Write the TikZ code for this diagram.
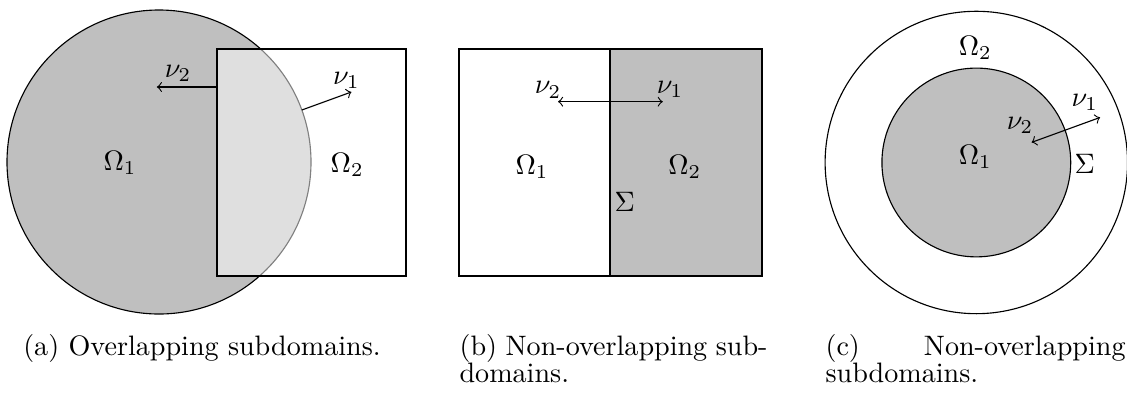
\documentclass[tikz,border=0pt]{standalone}
\usetikzlibrary{calc}
\tikzset{
  subdom/.style={fill=black!25},
  overlap/.style={fill=white,fill opacity=0.5},
  subcap/.style={anchor=base west,inner sep=0pt,align=left},
}
\begin{document}
\begin{tikzpicture}
\useasboundingbox (0,0) rectangle (14.0875,4.925);

% (a) overlapping
\coordinate (ca) at (1.9875,2.9);
\draw[subdom] (ca) circle (1.9);
\draw[overlap] (2.7125,1.475) rectangle (5.075,4.3125);
\draw[->] (2.7125,3.8375) -- (1.96,3.8375);
\draw[->] (ca) ++(20:1.9) -- ++(20:0.66);
\draw (2.225,4.01) node (nua2) {$\nu_2$};
\draw (4.33,3.92) node (nua1) {$\nu_1$};
\draw (1.5,2.89) node (oma1) {$\Omega_1$};
\draw (4.34,2.86) node (oma2) {$\Omega_2$};

% (b) non-overlapping, two boxes
\draw (5.7375,1.475) rectangle (7.625,4.3125);
\draw[subdom] (7.625,1.475) rectangle (9.525,4.3125);
\draw[<->] (6.975,3.654) -- (8.285,3.654);
\draw (6.85,3.8) node (nub2) {$\nu_2$};
\draw (8.375,3.81) node (nub1) {$\nu_1$};
\draw (6.65,2.84) node (omb1) {$\Omega_1$};
\draw (8.56,2.84) node (omb2) {$\Omega_2$};
\draw (7.81,2.4) node (sigb) {$\Sigma$};

% (c) non-overlapping, annulus
\coordinate (cc) at (12.204,2.894);
\draw (cc) circle (1.89);
\draw[subdom] (cc) circle (1.18);
\draw[<->] ($(cc)+(20:0.735)$) -- ($(cc)+(20:1.646)$);
\draw (13.56,3.64) node (nuc1) {$\nu_1$};
\draw (12.75,3.36) node (nuc2) {$\nu_2$};
\draw (12.19,4.325) node (omc2) {$\Omega_2$};
\draw (12.19,2.96) node (omc1) {$\Omega_1$};
\draw (13.56,2.875) node (sigc) {$\Sigma$};

% captions
\node[subcap] (capa) at (0.284,0.4875) {(a) Overlapping subdomains.};
\node[subcap] (capb) at (5.7375,0.15)
  {\makebox[3.85cm][s]{(b) Non-overlapping sub-}\\[-2.4pt]domains.};
\node[subcap] (capc) at (10.3125,0.15)
  {\makebox[3.75cm][s]{(c) Non-overlapping}\\[-2.4pt]subdomains.};
\end{tikzpicture}
\end{document}
